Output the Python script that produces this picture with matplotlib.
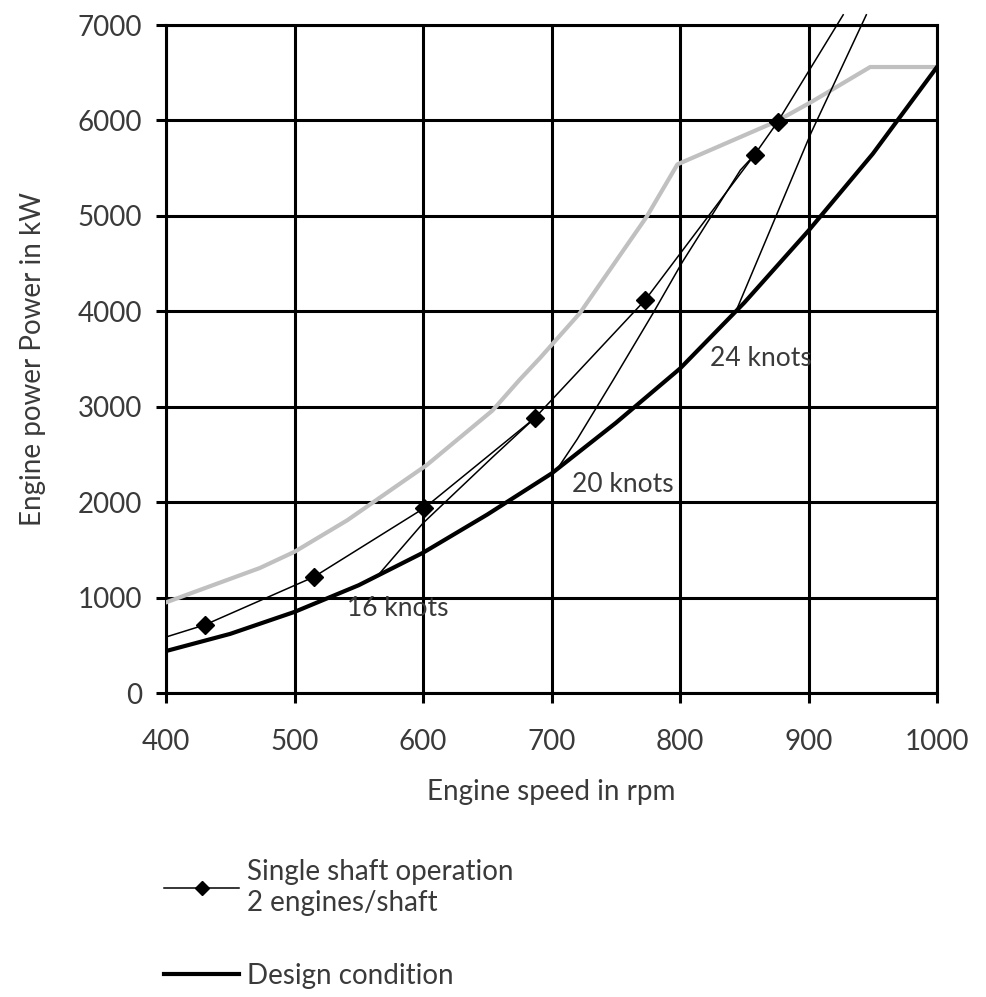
import matplotlib
matplotlib.use("Agg")
import matplotlib.pyplot as plt

# ---------------- data ----------------
speed_design = [400, 450, 500, 550, 600, 650, 700, 750, 800, 850, 900, 950, 1000]
power_design = [440, 620, 850, 1130, 1470, 1870, 2300, 2830, 3400, 4090, 4845, 5650, 6560]

speed_single = [400, 430, 515, 601, 687, 773, 858, 876, 927]
power_single = [587, 713, 1216, 1939, 2882, 4120, 5640, 5985, 7107]

speed_16 = [566, 600, 654, 687]
power_16 = [1250, 1780, 2470, 2882]

speed_20 = [704, 720, 748, 779, 802, 847, 858]
power_20 = [2338, 2660, 3280, 3980, 4520, 5480, 5640]

speed_24 = [844, 902, 945]
power_24 = [4015, 5870, 7107]

speed_limit = [400, 473, 500, 541, 603, 654, 675, 691, 722, 774, 798, 875, 903, 948, 1000]
power_limit = [950, 1310, 1480, 1810, 2390, 2960, 3280, 3510, 3980, 4990, 5540, 5990, 6200, 6560, 6560]

knot_labels = ["16 knots", "20 knots", "24 knots"]
knot_x = [541, 716, 823]
knot_y = [890, 2180, 3510]

x_ticks = [400, 500, 600, 700, 800, 900, 1000]
y_ticks = [0, 1000, 2000, 3000, 4000, 5000, 6000, 7000]

plt.rcParams['font.family'] = ['Lato', 'DejaVu Sans']
txt = '#3a3a3a'

fig = plt.figure(figsize=(9.86, 9.97), dpi=100)
ax = fig.add_axes([0.1684, 0.3049, 0.7819, 0.6700])

ax.plot(speed_limit, power_limit, color='#c0c0c0', lw=3, zorder=3)
ax.plot(speed_16, power_16, color='black', lw=1.1, zorder=4)
ax.plot(speed_20, power_20, color='black', lw=1.1, zorder=4)
ax.plot(speed_24, power_24, color='black', lw=1.1, zorder=4, clip_on=False)
single, = ax.plot(speed_single, power_single, color='black', lw=1.1, marker='D', ms=9,
                  markevery=[1, 2, 3, 4, 5, 6, 7], zorder=5, clip_on=False,
                  label='Single shaft operation\n2 engines/shaft')
design, = ax.plot(speed_design, power_design, color='black', lw=3, zorder=4,
                  label='Design condition')

for lab, x, y in zip(knot_labels, knot_x, knot_y):
    ax.text(x, y, lab, fontsize=19, color=txt, va='center', ha='left', zorder=6)

ax.set_xlim(400, 1000)
ax.set_ylim(0, 7000)
ax.set_xticks(x_ticks)
ax.set_yticks(y_ticks)
ax.grid(True, color='black', lw=2.2)
ax.set_axisbelow(True)
for s in ax.spines.values():
    s.set_linewidth(2.2)
ax.tick_params(axis='both', length=7, width=2.2, labelsize=20, labelcolor=txt)
ax.tick_params(axis='x', pad=19)
ax.tick_params(axis='y', pad=10)

ax.set_xlabel('Engine speed in rpm', fontsize=20, color=txt, labelpad=17)
ax.set_ylabel('Engine power Power in kW', fontsize=20, color=txt, labelpad=23)

fig.legend(handles=[single, design], loc='upper left', bbox_to_anchor=(0.141, 0.163),
           frameon=False, fontsize=20, handlelength=2.7, handletextpad=0.3,
           labelspacing=1.7, labelcolor=txt, markerscale=0.8)

fig.savefig('out.png', dpi=100)
